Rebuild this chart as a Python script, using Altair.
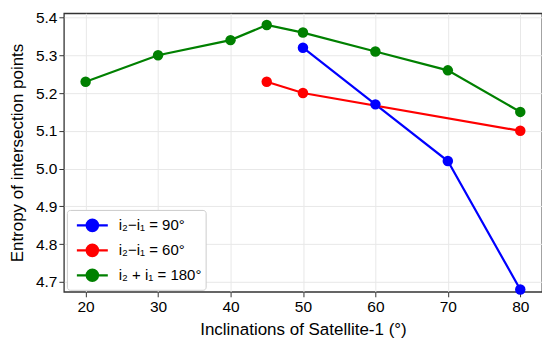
import altair as alt
import pandas as pd

blue_x = [50, 60, 70, 80]
blue_y = [5.32, 5.17, 5.02, 4.68]
red_x = [45, 50, 80]
red_y = [5.23, 5.20, 5.10]
green_x = [20, 30, 40, 45, 50, 60, 70, 80]
green_y = [5.23, 5.30, 5.34, 5.38, 5.36, 5.31, 5.26, 5.15]

labels = ["i₂−i₁ = 90°", "i₂−i₁ = 60°", "i₂ + i₁ = 180°"]
colors = ["#0000FF", "#FF0000", "#008000"]

rows = []
for lab, xs, ys in zip(labels, [blue_x, red_x, green_x], [blue_y, red_y, green_y]):
    for x, y in zip(xs, ys):
        rows.append({"x": x, "y": y, "series": lab})
df = pd.DataFrame(rows)

font = "Liberation Sans"
# line with a filled dot, in legend symbol units (scale = sqrt(size)/2 = 10px)
sym = "M-1.55,0H1.55M0.57,0A0.57,0.57,0,1,1,-0.57,0A0.57,0.57,0,1,1,0.57,0Z"

xs = alt.X("x:Q", scale=alt.Scale(domain=[17, 83], nice=False, zero=False),
           axis=alt.Axis(values=[20, 30, 40, 50, 60, 70, 80], title="Inclinations of Satellite-1 (°)",
                         labelPadding=3, titlePadding=6))
ys = alt.Y("y:Q", scale=alt.Scale(domain=[4.674, 5.411], nice=False, zero=False),
           axis=alt.Axis(values=[4.7, 4.8, 4.9, 5.0, 5.1, 5.2, 5.3, 5.4], format=".1f",
                         title="Entropy of intersection points", labelPadding=2, titlePadding=9))
col = alt.Color("series:N", scale=alt.Scale(domain=labels, range=colors),
                legend=alt.Legend(title=None, orient="none", legendX=3, legendY=197,
                                  symbolType=sym, symbolSize=400, symbolStrokeWidth=2.2,
                                  symbolOffset=10, labelFontSize=15, labelFont=font,
                                  labelColor="#000000", rowPadding=3,
                                  padding=4, strokeColor="#cccccc", cornerRadius=3,
                                  fillColor="white", labelOffset=15))

lines = alt.Chart(df).mark_line(strokeWidth=2.2).encode(x=xs, y=ys, color=col, detail="series:N")
points = alt.Chart(df).mark_circle(size=110, opacity=1).encode(x=xs, y=ys, color=col)

chart = alt.layer(lines, points).properties(
    width=479, height=279,
    autosize=alt.AutoSizeParams(type="none"),
    padding={"left": 56, "top": 5, "right": 0, "bottom": 49},
).configure_view(
    stroke="#333333", strokeWidth=1.3
).configure_axis(
    labelFont=font, titleFont=font, labelFontSize=15.5, titleFontSize=17,
    titleFontWeight="normal", labelColor="#000000", titleColor="#000000",
    gridColor="#e8e8e8", gridWidth=1, tickColor="#333333", tickSize=5,
    domain=False
)

chart.save("out.html", embed_options={"renderer": "svg", "actions": False})
